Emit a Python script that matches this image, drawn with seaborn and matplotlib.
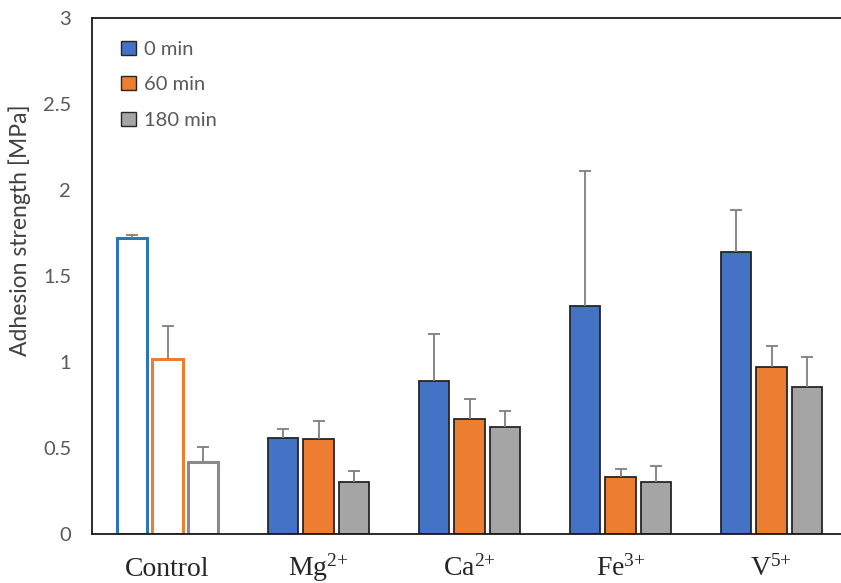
import numpy as np
import pandas as pd
import matplotlib
matplotlib.use("Agg")
import matplotlib.pyplot as plt
from matplotlib.patches import Patch
import seaborn as sns

# Adhesion strength per treatment and exposure time
ions = ["Control", "Mg2+", "Ca2+", "Fe3+", "V5+"]
ion_labels = ["Control", "Mg$^{2{+}}$", "Ca$^{2{+}}$", "Fe$^{3{+}}$", "V$^{5{+}}$"]
times = ["0 min", "60 min", "180 min"]

strength_0 = [1.72, 0.558, 0.892, 1.328, 1.641]
strength_60 = [1.018, 0.551, 0.668, 0.331, 0.973]
strength_180 = [0.42, 0.303, 0.621, 0.304, 0.855]

sd_0 = [0.02, 0.053, 0.271, 0.784, 0.245]
sd_60 = [0.19, 0.107, 0.116, 0.046, 0.118]
sd_180 = [0.087, 0.066, 0.093, 0.092, 0.172]

fill_colors = ["#4472C4", "#ED7D31", "#A5A5A5"]
control_edges = ["#2E75B6", "#ED7D31", "#8A8A8A"]

sns.set_theme(style="white")
plt.rcParams["font.family"] = ["Lato", "DejaVu Sans"]
plt.rcParams["mathtext.default"] = "regular"

df = pd.DataFrame({
    "ion": np.repeat(ions, 3),
    "time": times * len(ions),
    "strength": np.ravel(np.column_stack([strength_0, strength_60, strength_180])),
})

fig = plt.figure(figsize=(8.41, 5.83), dpi=100)
ax = fig.add_axes([92 / 841, 49 / 583, 755 / 841, 516 / 583])

sns.barplot(data=df, x="ion", y="strength", hue="time", order=ions,
            hue_order=times, palette=fill_colors, saturation=1,
            width=0.705, gap=0.13, edgecolor="#262626", linewidth=1.3,
            errorbar=None, legend=False, ax=ax, zorder=2)

sds = [sd_0, sd_60, sd_180]
bar_containers = list(ax.containers)
for k, cont in enumerate(bar_containers):
    # control bars are drawn as outlines only
    ctrl = cont[0]
    ctrl.set_facecolor("white")
    ctrl.set_edgecolor(control_edges[k])
    ctrl.set_linewidth(2.2)
    xs = [b.get_x() + b.get_width() / 2 for b in cont]
    tops = [b.get_height() for b in cont]
    err = np.array(sds[k])
    _, caps, _ = ax.errorbar(xs, tops, yerr=[np.zeros_like(err), err],
                             fmt="none", ecolor="#7F7F7F", elinewidth=1.3,
                             capsize=4.5, capthick=1.3, zorder=3)
    # keep only the upper caps
    for cap in caps:
        if np.allclose(cap.get_ydata(), tops):
            cap.set_visible(False)

ax.set_xlim(-0.5, 4.5)
ax.set_ylim(0, 3)
ax.set_yticks([0, 0.5, 1, 1.5, 2, 2.5, 3])
ax.set_yticklabels(["0", "0.5", "1", "1.5", "2", "2.5", "3"])
ax.set_xticks(range(len(ions)))
ax.set_xticklabels(ion_labels)

ax.tick_params(axis="y", length=0, pad=15, labelsize=14.5, labelcolor="#595959")
ax.tick_params(axis="x", length=0, pad=30, labelsize=20, labelcolor="#262626")
for lab in ax.get_xticklabels():
    lab.set_fontfamily(["Liberation Serif", "DejaVu Serif"])
    lab.set_va("baseline")

ax.set_xlabel("")
ax.set_ylabel("Adhesion strength [MPa]", fontsize=16.5, color="#404040")
ax.yaxis.set_label_coords(-0.081, 0.589)

for side in ["left", "bottom", "top"]:
    ax.spines[side].set_visible(True)
    ax.spines[side].set_color("#1a1a1a")
    ax.spines[side].set_linewidth(1.3)
ax.spines["right"].set_visible(False)
ax.grid(False)

handles = [Patch(facecolor=c, edgecolor="#262626", linewidth=1.0) for c in fill_colors]
leg = ax.legend(handles, times, loc="upper left", bbox_to_anchor=(0.039, 0.956),
                frameon=False, fontsize=14.5, labelcolor="#595959",
                handlelength=0.7, handleheight=0.7, handletextpad=0.4,
                labelspacing=0.92, borderpad=0, borderaxespad=0)

fig.savefig("out.png", dpi=100)
